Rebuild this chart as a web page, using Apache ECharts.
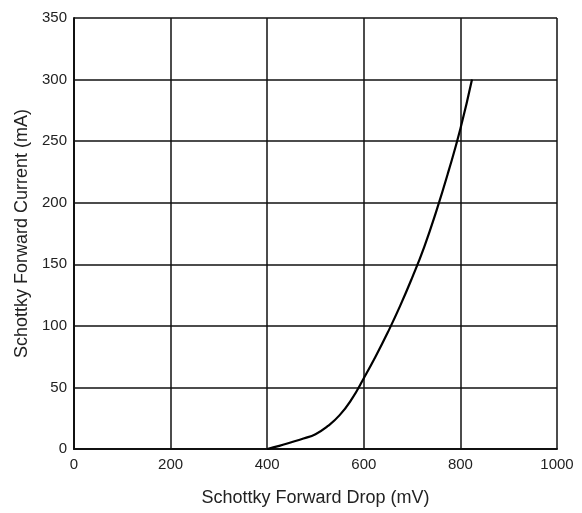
<!DOCTYPE html>
<html><head><meta charset="utf-8">
<script src="https://cdn.jsdelivr.net/npm/echarts@6/dist/echarts.min.js"></script>
<style>html,body{margin:0;padding:0;background:#fff}#c{width:582px;height:513px}</style>
</head><body><div id="c"></div>
<script>
const dropMv = [400, 425, 450, 475, 500, 525, 550, 575, 600, 625, 650, 675, 700, 725, 750, 775, 800, 824];
const currentMa = [0, 2.5, 5.5, 8.5, 12, 18.5, 27.5, 40.5, 57.5, 75.5, 95, 116, 139, 164, 193, 225, 260, 300];
const xTicks = [0, 200, 400, 600, 800, 1000];
const yTicks = [0, 50, 100, 150, 200, 250, 300, 350];
const xName = 'Schottky Forward Drop (mV)';
const yName = 'Schottky Forward Current (mA)';

const tickFont = '"Liberation Sans", Arial, sans-serif';
const nameFont = '"Liberation Sans", Arial, sans-serif';
const chart = echarts.init(document.getElementById('c'));
chart.setOption({
  animation: false,
  grid: {left: 74, right: 25, top: 18, bottom: 64},
  xAxis: {
    type: 'value', min: xTicks[0], max: xTicks[xTicks.length-1], interval: 200,
    name: xName, nameLocation: 'middle', nameGap: 40,
    nameTextStyle: {color: '#222', fontSize: 18, fontFamily: nameFont},
    axisLine: {show: true, lineStyle: {color: '#111', width: 2}},
    axisTick: {show: false},
    axisLabel: {color: '#222', fontSize: 15, fontFamily: tickFont, margin: 8,
      formatter: v => String(v)},
    splitLine: {show: true, lineStyle: {color: '#111', width: 1.5}}
  },
  yAxis: {
    type: 'value', min: yTicks[0], max: yTicks[yTicks.length-1], interval: 50,
    name: yName, nameLocation: 'middle', nameGap: 35, nameRotate: 90,
    nameTextStyle: {color: '#222', fontSize: 18, fontFamily: nameFont},
    axisLine: {show: true, lineStyle: {color: '#111', width: 2}},
    axisTick: {show: false},
    axisLabel: {color: '#222', fontSize: 15, fontFamily: tickFont, margin: 7,
      formatter: v => String(v)},
    splitLine: {show: true, lineStyle: {color: '#111', width: 1.5}}
  },
  series: [{
    type: 'line', smooth: 0.5, symbol: 'none',
    data: dropMv.map((x, i) => [x, currentMa[i]]),
    lineStyle: {color: '#000', width: 2.2}
  }]
});
</script></body></html>
